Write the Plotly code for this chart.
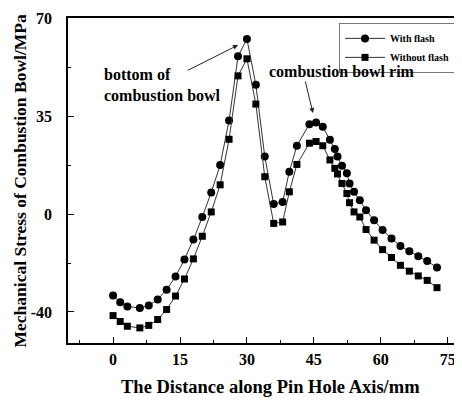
import plotly.graph_objects as go

# distance along pin hole axis (mm)
distance = [0, 1.6, 3.2, 6, 8, 10, 12, 14, 16, 18, 20, 22, 24, 26, 28, 30, 32, 34, 36, 38,
            39.5, 41.2, 44, 45.5, 47, 48.6, 49.7, 50.3, 51.3, 52.4, 53, 54, 55.3, 56.7,
            58.5, 60.4, 62.4, 64.4, 66.4, 68.4, 70.4, 72.6]
with_flash = [-29.1, -31.5, -33.0, -33.6, -32.7, -30.5, -27.0, -22.3, -16.2, -9.1, -1.0, 7.8,
              17.6, 33.5, 56.5, 62.7, 46.3, 20.6, 3.6, 4.4, 15.2, 24.5, 32.2, 32.8, 31.3,
              26.6, 23.3, 20.6, 17.3, 14.6, 11.0, 8.0, 5.0, 1.4, -2.2, -5.7, -8.7, -11.4,
              -13.3, -15.1, -16.8, -19.1]
without_flash = [-36.3, -38.4, -40.1, -40.7, -39.8, -37.7, -34.1, -29.3, -23.2, -16.0, -7.9, 0.8,
                 10.5, 26.8, 49.5, 55.6, 39.4, 13.4, -3.3, -2.8, 8.0, 17.8, 25.4, 26.0, 24.5,
                 19.4, 16.4, 14.4, 11.0, 7.4, 4.1, 0.8, -1.0, -5.5, -9.3, -12.7, -15.5, -18.3,
                 -20.4, -22.1, -23.7, -26.3]

x_ticks = [0, 15, 30, 45, 60, 75]
x_tick_labels = ["0", "15", "30", "45", "60", "75"]
y_ticks = [-35, 0, 35, 70]
y_tick_labels = ["-40", "0", "35", "70"]

FONT = "Liberation Serif, Times New Roman, serif"


def b(s):
    return "<b>" + s + "</b>"


fig = go.Figure()
fig.add_trace(go.Scatter(
    x=distance, y=with_flash, name=b("With flash") + "&nbsp;&nbsp;&nbsp;", mode="lines+markers",
    line=dict(color="#333333", width=1),
    marker=dict(symbol="circle", size=8, color="black"),
))
fig.add_trace(go.Scatter(
    x=distance, y=without_flash, name=b("Without flash") + "&nbsp;&nbsp;&nbsp;", mode="lines+markers",
    line=dict(color="#333333", width=1),
    marker=dict(symbol="square", size=7, color="black"),
))

axis_common = dict(
    showgrid=False, zeroline=False, showline=True, linecolor="black", linewidth=1.5,
    ticks="inside", tickcolor="black", tickwidth=1.2, ticklen=6,
    tickfont=dict(family=FONT, size=16, color="black"),
)

fig.update_layout(
    width=454, height=392,
    margin=dict(l=60, r=0, t=10, b=57),
    paper_bgcolor="white", plot_bgcolor="white",
    font=dict(family=FONT, color="black"),
    xaxis=dict(range=[-10.1, 78.2], tickvals=x_ticks, ticktext=[b(t) for t in x_tick_labels],
               mirror=True, ticklabelstandoff=1,
               minor=dict(ticks="inside", ticklen=3, tickcolor="black", dtick=7.5, tick0=0),
               **axis_common),
    yaxis=dict(range=[-46.1, 70.2], tickvals=y_ticks, ticktext=[b(t) for t in y_tick_labels],
               ticklabelstandoff=11,
               minor=dict(ticks="inside", ticklen=3, tickcolor="black", dtick=17.5, tick0=0),
               **axis_common),
    legend=dict(x=1.0, y=0.985, xanchor="right", yanchor="top",
                bordercolor="#777777", borderwidth=1, bgcolor="white",
                font=dict(family=FONT, size=10, color="black"),
                tracegroupgap=0, itemwidth=40, indentation=0),
    showlegend=True,
)

fig.add_annotation(xref="paper", yref="paper", x=-0.122, y=0.5,
                   text=b("Mechanical Stress of Combustion Bowl/MPa"),
                   textangle=-90, showarrow=False, xanchor="center", yanchor="middle",
                   font=dict(family=FONT, size=17.5, color="black"))
fig.add_annotation(xref="paper", yref="paper", x=0.513, y=-0.135,
                   text=b("The Distance along Pin Hole Axis/mm"),
                   showarrow=False, xanchor="center", yanchor="middle",
                   font=dict(family=FONT, size=18.5, color="black"))

fig.add_annotation(x=-2.5, y=46.2, text=b("bottom of<br>combustion bowl"), showarrow=False,
                   xanchor="left", yanchor="middle", align="left",
                   font=dict(family=FONT, size=16, color="black"))
fig.add_annotation(x=34.5, y=50.9, text=b("combustion bowl rim"), showarrow=False,
                   xanchor="left", yanchor="middle",
                   font=dict(family=FONT, size=16, color="black"))

fig.add_annotation(x=28.0, y=60.5, ax=16.4, ay=51.2, axref="x", ayref="y", text="",
                   showarrow=True, arrowhead=2, arrowsize=1, arrowwidth=1, arrowcolor="#222222")
fig.add_annotation(x=44.8, y=36.2, ax=43.0, ay=48.0, axref="x", ayref="y", text="",
                   showarrow=True, arrowhead=2, arrowsize=1, arrowwidth=1, arrowcolor="#222222")

fig.write_html("out.html")
